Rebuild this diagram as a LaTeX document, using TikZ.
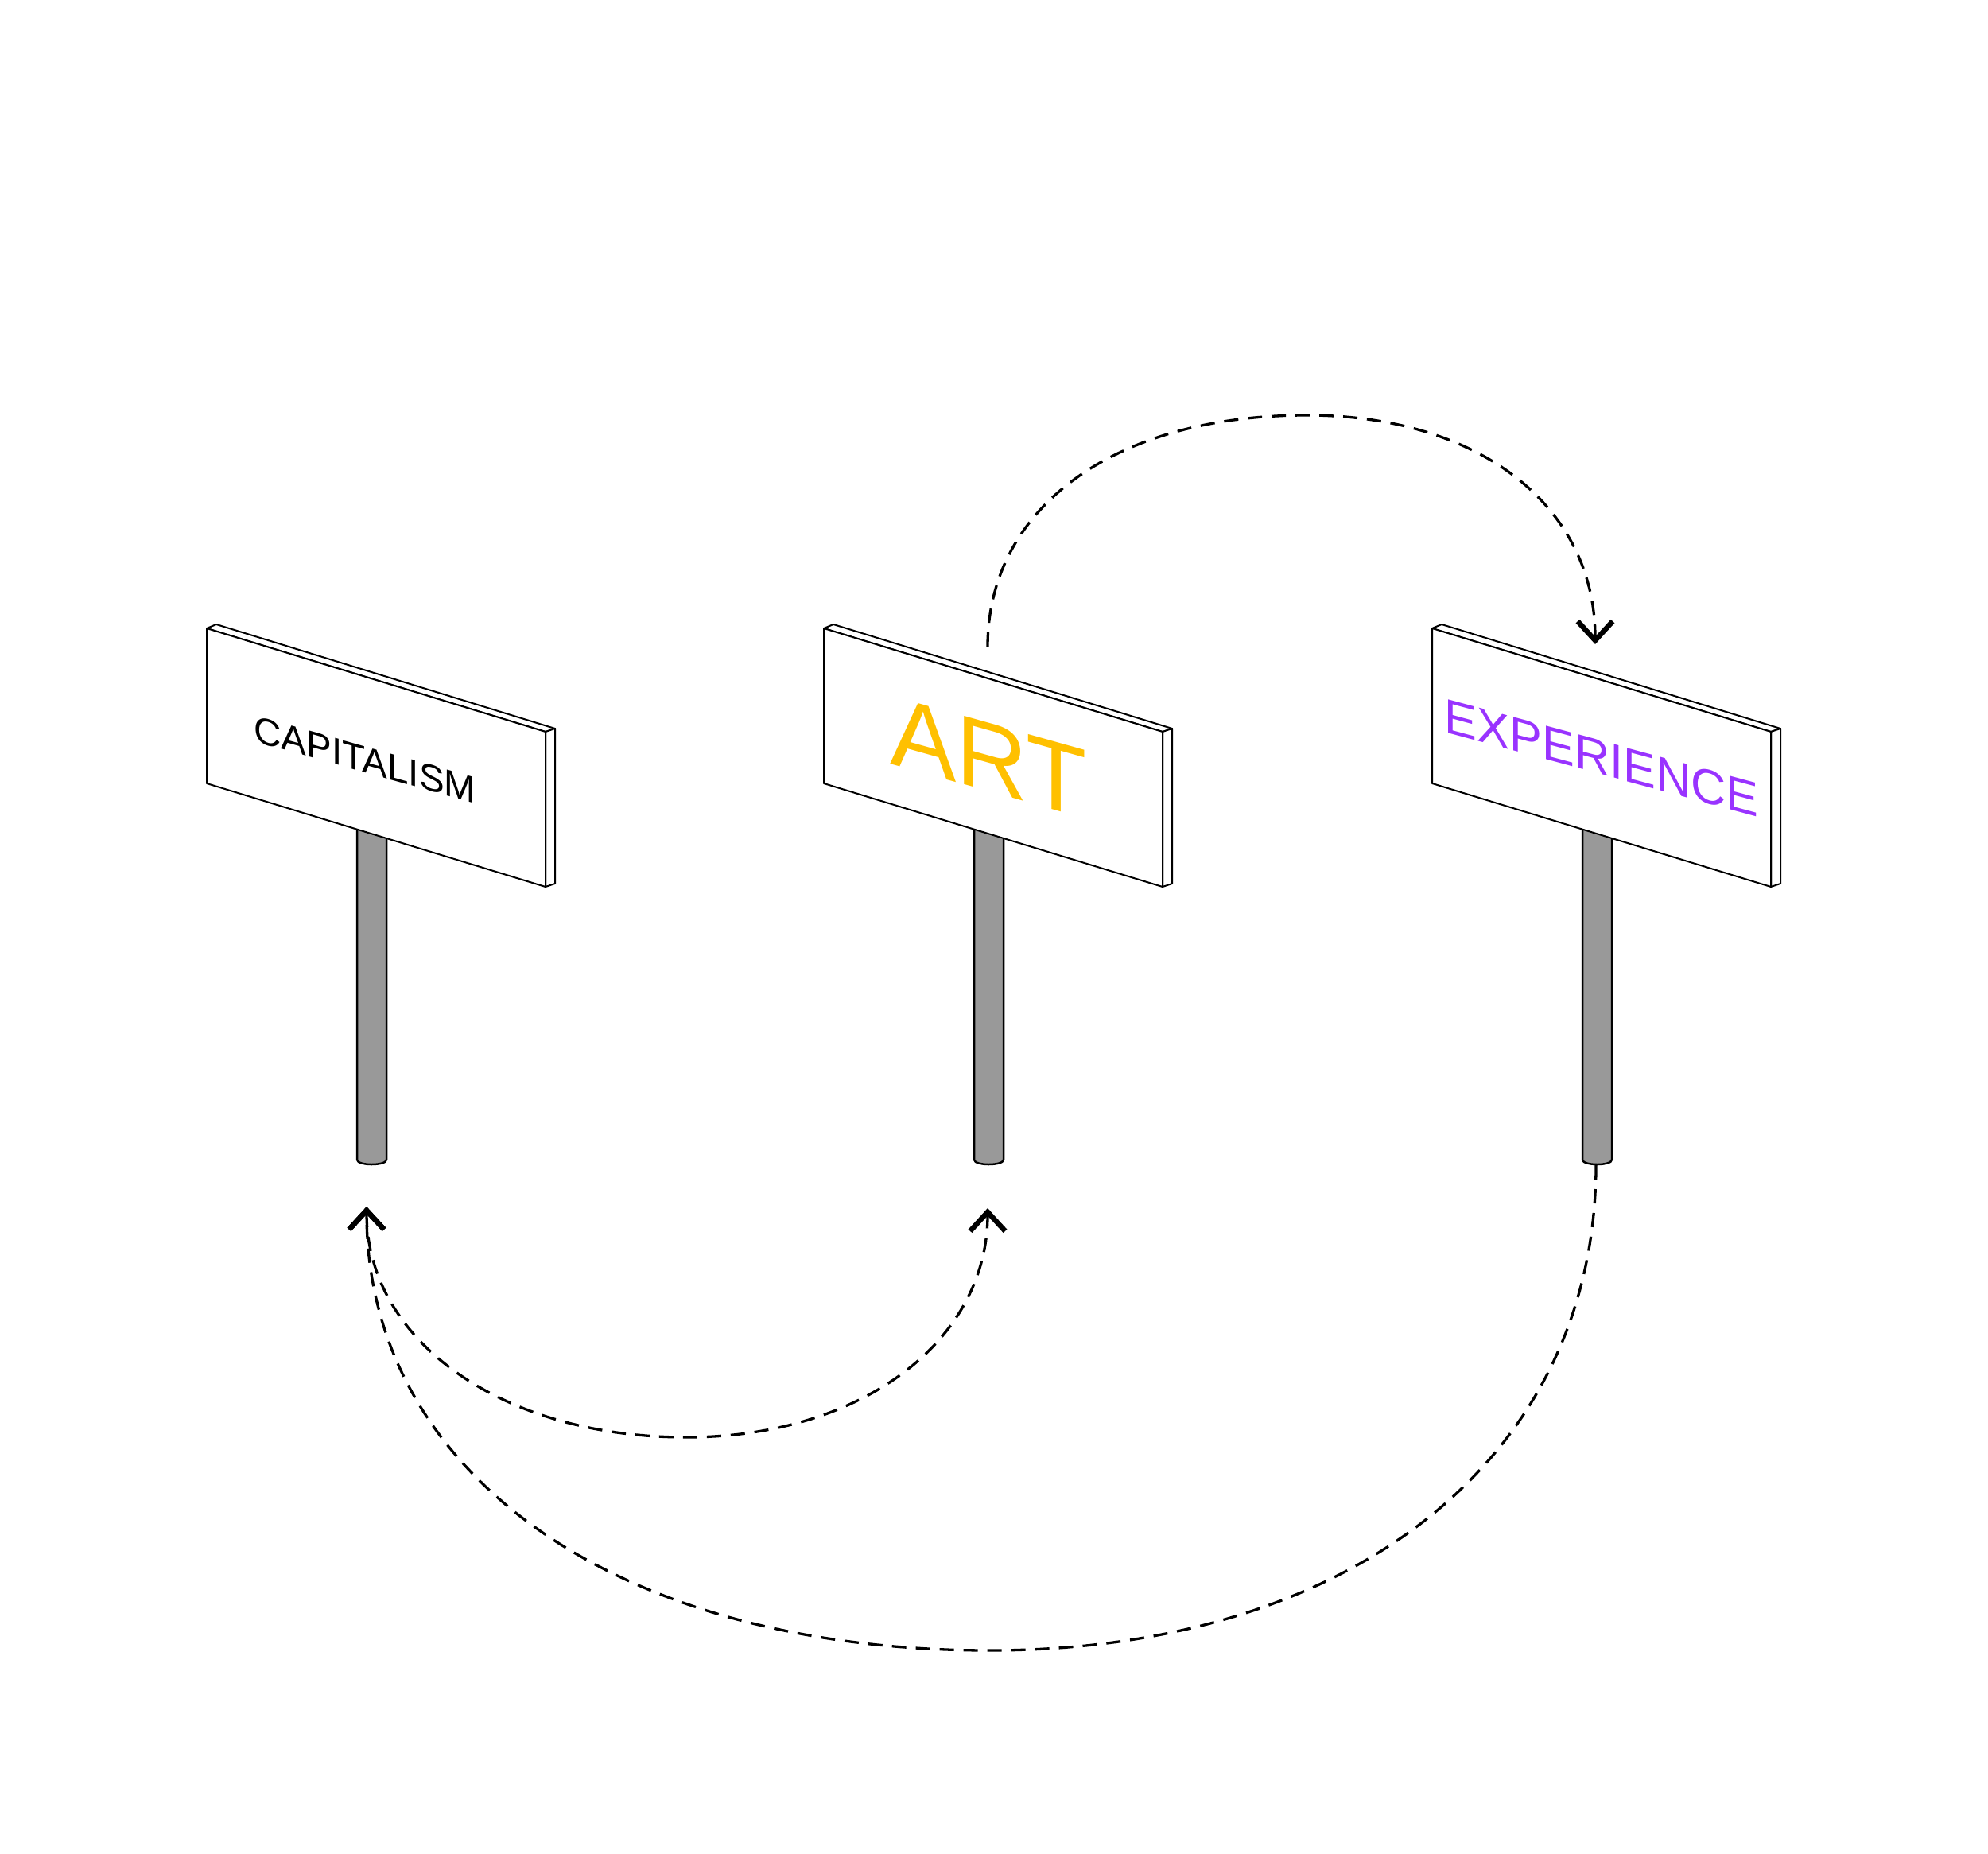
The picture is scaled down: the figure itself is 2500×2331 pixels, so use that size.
\documentclass[tikz,border=0pt]{standalone}
\usepackage{fontspec}
\setmainfont{Liberation Sans}
\usetikzlibrary{arrows.meta}
\definecolor{artyellow}{HTML}{FFC000}
\definecolor{exppurple}{HTML}{9933FF}
\definecolor{polegray}{HTML}{999999}
\begin{document}
\begin{tikzpicture}[x=0.01cm,y=-0.01cm,
  board/.style={fill=white, draw=black, line width=0.02cm, line join=round},
  polestyle/.style={fill=polegray, draw=black, line width=0.025cm},
  conn/.style={draw=black, line width=0.033cm, dash pattern=on 0.18cm off 0.12cm},
  barbend/.style={-{Straight Barb[length=0.24cm, width=0.44cm, line width=0.065cm 0]}},
  barbboth/.style={{Straight Barb[length=0.24cm, width=0.44cm, line width=0.065cm 0]}-{Straight Barb[length=0.24cm, width=0.44cm, line width=0.065cm 0]}},
  signtext/.style={transform shape, inner sep=0pt, anchor=center}
]
\useasboundingbox[fill=white] (0,0) rectangle (2500,2331);

% three sign posts
\foreach \dx in {0,776,1541}{
  \begin{scope}[shift={(\dx,0)}]
    \draw[polestyle] (449,1020) -- (449,1458) .. controls (449,1466) and (486,1466) .. (486,1458) -- (486,1020) -- cycle;
    \draw[board] (260,790) -- (272,785) -- (698,916) -- (686,920) -- cycle;
    \draw[board] (686,920) -- (698,916) -- (698,1111) -- (686,1115) -- cycle;
    \draw[board] (260,790) -- (686,920) -- (686,1115) -- (260,985) -- cycle;
  \end{scope}
}

% sign texts
\begin{scope}[shift={(459,955)}, yslant=-0.28]
  \node[signtext, font=\fontsize{13.5pt}{16pt}\selectfont] (cap) at (0,0) {CAPITALISM};
\end{scope}
\begin{scope}[shift={(1243,952)}, yslant=-0.28]
  \node[signtext, text=artyellow, font=\fontsize{35.5pt}{40pt}\selectfont] (art) at (0,0) {ART};
\end{scope}
\begin{scope}[shift={(2014,953)}, yslant=-0.27]
  \node[signtext, text=exppurple, font=\fontsize{17.4pt}{20pt}\selectfont] (exp) at (0,0) {EXPERIENCE};
\end{scope}

% connector ends
\coordinate (artTop) at (1242,813);
\coordinate (expTip) at (2006,810);
\coordinate (capTip) at (461,1517);
\coordinate (artTip) at (1242,1519);
\coordinate (expBot) at (2007,1465);
\coordinate (topA) at (1643,522);
\coordinate (botB) at (863,1807);
\coordinate (botC) at (1244,2075);

% connectors
\draw[conn, barbend] (artTop) .. controls +(0,-175) and +(-241,0) .. (topA) .. controls +(218,0) and +(0,-173) .. (expTip);
\draw[conn, barbboth] (capTip) .. controls +(0,168) and +(-233,0) .. (botB) .. controls +(220,0) and +(0,167) .. (artTip);
\draw[conn, barbend] (expBot) .. controls +(0,366) and +(458,0) .. (botC) .. controls +(-470,0) and +(0,335) .. (capTip);
\end{tikzpicture}
\end{document}
